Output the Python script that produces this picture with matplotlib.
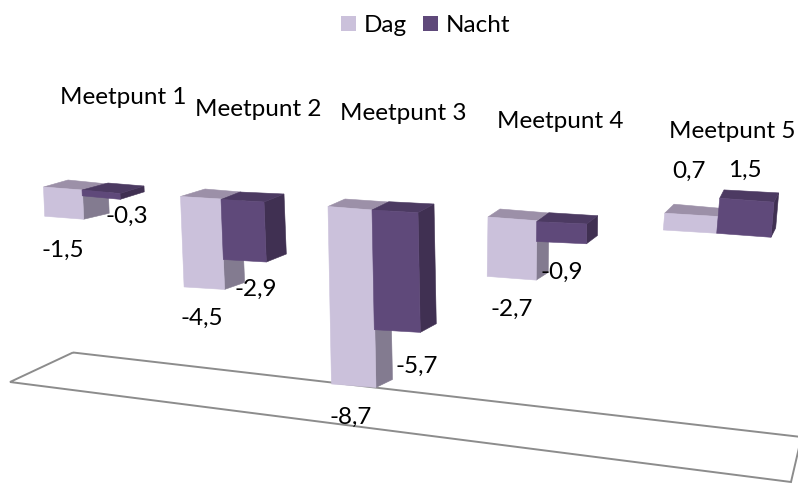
import matplotlib
matplotlib.use("Agg")
import matplotlib.pyplot as plt
from matplotlib.patches import Polygon, Rectangle

categories = ["Meetpunt 1", "Meetpunt 2", "Meetpunt 3", "Meetpunt 4", "Meetpunt 5"]
series_names = ["Dag", "Nacht"]
dag = [-1.5, -4.5, -8.7, -2.7, 0.7]
nacht = [-0.3, -2.9, -5.7, -0.9, 1.5]

# projection of the 3D scene: corners of each bar on the zero plane (FL, FR, BR, BL)
BASE = {
    0: [[(43.5, 187), (82.5, 190), (108, 184), (68, 180)],
        [(82, 190), (120, 193.5), (144, 186), (108, 183)]],
    1: [[(180.5, 196.5), (221, 199), (241, 192), (205, 189)],
        [(221, 199.5), (264, 202), (284, 194), (240, 192)]],
    2: [[(328, 206.5), (372.5, 210), (389, 202), (345, 199)],
        [(372, 210), (418, 212.7), (434, 204), (389, 201.7)]],
    3: [[(488, 217), (537, 220.7), (549, 213), (500, 209)],
        [(536.7, 221.7), (586.7, 224), (597.7, 215.7), (549, 212.7)]],
    4: [[(663.3, 230), (716.7, 233.3), (718, 225), (672.6, 221)],
        [(716.7, 233.3), (771, 237.3), (775.7, 228), (721, 225)]],
}
SCALE = [[19.5, 20.1, 20.4, 22, 24], [19.5, 20.7, 21.0, 22, 23.4]]
LEAN = [-0.8, -0.8, -0.4, 0.3, 2.0]
FLOOR = [(73, 352.5), (801.5, 437), (791, 482), (10, 382)]

COLORS = {
    0: dict(front="#CBC1DB", top="#9C90A8", side="#837B90"),
    1: dict(front="#5F497A", top="#4C3A62", side="#403052"),
}

CAT_POS = [(123, 98), (258, 110), (403, 114), (560, 121), (732, 131)]
DAG_POS = [(63, 250), (202, 318), (351, 417), (512, 309), (689, 171)]
NACHT_POS = [(127, 216), (256, 289), (417, 366), (562, 272), (745, 170)]

fig = plt.figure(figsize=(7.98, 4.84), dpi=100)
ax = fig.add_axes([0, 0, 1, 1])
ax.set_xlim(0, 798)
ax.set_ylim(484, 0)
ax.axis("off")
FONT = "Lato"
FS = 17.5


def at(corner, v, g, s):
    return (corner[0] + LEAN[g] * v, corner[1] - SCALE[s][g] * v)


def face(pts, col, z):
    ax.add_patch(Polygon(pts, closed=True, fc=col, ec=col, lw=0.4, zorder=z))


def draw_bar(g, s, v):
    fl, fr, br, bl = BASE[g][s]
    c = COLORS[s]
    up = max(v, 0)
    lo = min(v, 0)
    z = 3 + g + s * 0.5
    face([at(fr, up, g, s), at(br, up, g, s), at(br, lo, g, s), at(fr, lo, g, s)], c["side"], z)
    face([at(fl, up, g, s), at(fr, up, g, s), at(br, up, g, s), at(bl, up, g, s)], c["top"], z)
    face([at(fl, up, g, s), at(fr, up, g, s), at(fr, lo, g, s), at(fl, lo, g, s)], c["front"], z)


ax.add_patch(Polygon(FLOOR, closed=True, fc="none", ec="#8C8C8C", lw=1.4, zorder=1))

for g in range(len(categories)):
    draw_bar(g, 0, dag[g])
    draw_bar(g, 1, nacht[g])


def fmt(v):
    return f"{v:.1f}".replace(".", ",")


for g, name in enumerate(categories):
    ax.text(*CAT_POS[g], name, family=FONT, fontsize=FS, ha="center", va="center", color="black", zorder=20)
    ax.text(*DAG_POS[g], fmt(dag[g]), family=FONT, fontsize=FS, ha="center", va="center", color="black", zorder=20)
    ax.text(*NACHT_POS[g], fmt(nacht[g]), family=FONT, fontsize=FS, ha="center", va="center", color="black", zorder=20)

# legend
ax.add_patch(Rectangle((341, 16), 15, 15, fc=COLORS[0]["front"], ec="none"))
ax.add_patch(Rectangle((423, 16), 15, 15, fc=COLORS[1]["front"], ec="none"))
ax.text(364, 25, series_names[0], family=FONT, fontsize=FS, ha="left", va="center")
ax.text(446, 25, series_names[1], family=FONT, fontsize=FS, ha="left", va="center")

fig.savefig("out.png", dpi=100)
